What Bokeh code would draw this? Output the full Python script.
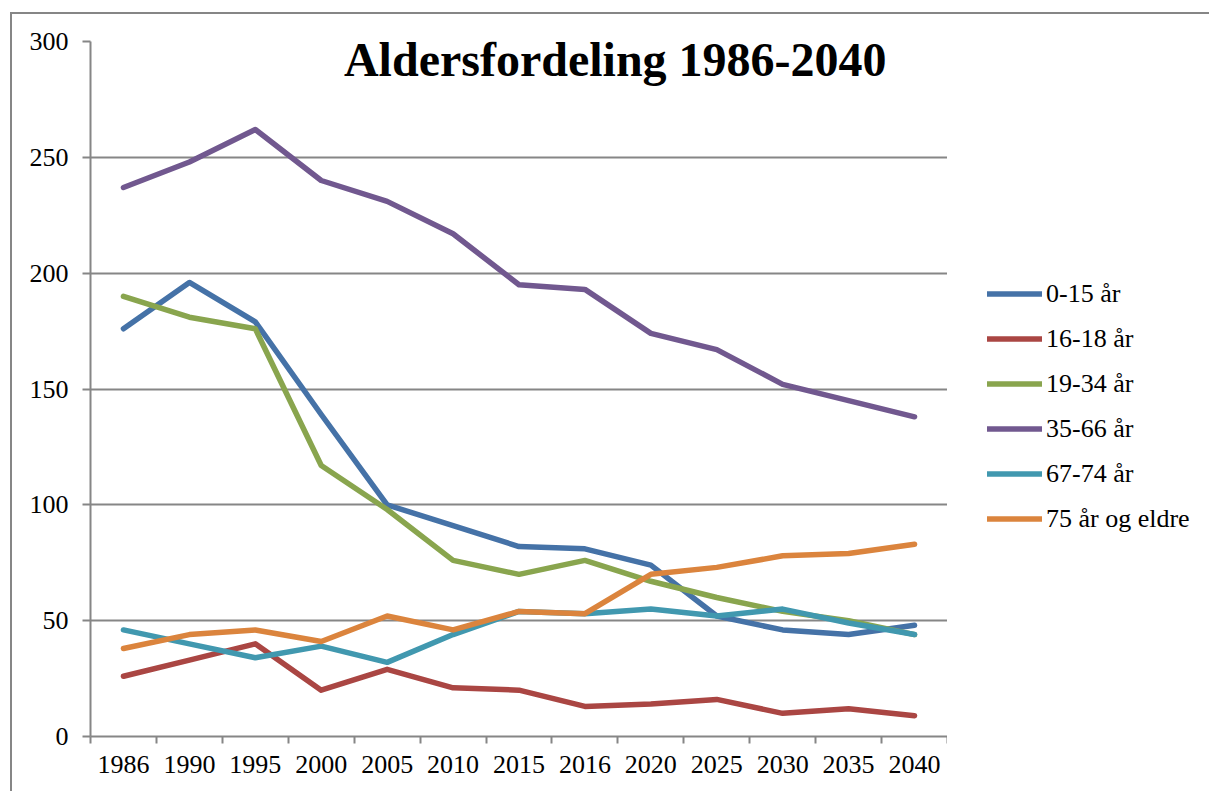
from bokeh.plotting import figure
from bokeh.layouts import row
from bokeh.models import (FixedTicker, CustomJSTickFormatter, Legend, LegendItem,
                          Label, Range1d)
from bokeh.embed import file_html
from bokeh.resources import INLINE

years = ["1986", "1990", "1995", "2000", "2005", "2010", "2015", "2016",
         "2020", "2025", "2030", "2035", "2040"]
series_names = ["0-15 år", "16-18 år", "19-34 år", "35-66 år", "67-74 år", "75 år og eldre"]
v_0_15 = [176, 196, 179, 139, 100, 91, 82, 81, 74, 52, 46, 44, 48]
v_16_18 = [26, 33, 40, 20, 29, 21, 20, 13, 14, 16, 10, 12, 9]
v_19_34 = [190, 181, 176, 117, 98, 76, 70, 76, 67, 60, 54, 50, 44]
v_35_66 = [237, 248, 262, 240, 231, 217, 195, 193, 174, 167, 152, 145, 138]
v_67_74 = [46, 40, 34, 39, 32, 44, 54, 53, 55, 52, 55, 49, 44]
v_75 = [38, 44, 46, 41, 52, 46, 54, 53, 70, 73, 78, 79, 83]
y_ticks = [0, 50, 100, 150, 200, 250, 300]
colors = ["#4572A7", "#AA4643", "#89A54E", "#71588F", "#4198AF", "#DB843D"]
all_series = [v_0_15, v_16_18, v_19_34, v_35_66, v_67_74, v_75]

FONT = "Liberation Serif"
GRAY = "#868686"

n = len(years)
xs = [i + 0.5 for i in range(n)]

p = figure(width=935, height=777, output_backend="svg", toolbar_location=None,
           x_range=Range1d(0, n), y_range=Range1d(0, 300),
           min_border_left=78, min_border_right=0, min_border_top=27,
           min_border_bottom=55)
p.outline_line_color = None
p.background_fill_color = "white"
p.border_fill_color = "white"

# x axis: labels at category centres, tick marks at boundaries
xa = p.xaxis[0]
xa.ticker = FixedTicker(ticks=xs, minor_ticks=list(range(n + 1)))
xa.formatter = CustomJSTickFormatter(args=dict(labels=years),
                                     code="return labels[Math.floor(tick)];")
xa.major_tick_out = 0
xa.major_tick_in = 0
xa.minor_tick_out = 7
xa.minor_tick_in = 0
xa.minor_tick_line_color = GRAY
xa.minor_tick_line_width = 2
xa.axis_line_color = GRAY
xa.axis_line_width = 2
xa.major_label_text_font = FONT
xa.major_label_text_font_size = "26px"
xa.major_label_text_color = "black"
xa.major_label_standoff = 12

ya = p.yaxis[0]
ya.ticker = FixedTicker(ticks=y_ticks)
ya.major_tick_out = 8
ya.major_tick_in = 0
ya.minor_tick_out = 0
ya.minor_tick_in = 0
ya.major_tick_line_color = GRAY
ya.major_tick_line_width = 2
ya.axis_line_color = GRAY
ya.axis_line_width = 2
ya.major_label_text_font = FONT
ya.major_label_text_font_size = "26px"
ya.major_label_text_color = "black"
ya.major_label_standoff = 14

p.xgrid.grid_line_color = None
p.ygrid.ticker = FixedTicker(ticks=y_ticks)
p.ygrid.grid_line_color = GRAY
p.ygrid.grid_line_width = 2

for vals, c in zip(all_series, colors):
    p.line(xs, vals, line_color=c, line_width=5.5, line_cap="round", line_join="round")

title = Label(x=7.96, y=292.3, text="Aldersfordeling 1986-2040",
              text_font=FONT, text_font_size="48px", text_font_style="bold",
              text_align="center", text_baseline="alphabetic", text_color="black")
p.add_layout(title)

# legend panel to the right of the plot area (series lie outside its range,
# so only the legend glyphs are visible here)
pl = figure(width=262, height=777, output_backend="svg", toolbar_location=None,
            x_range=Range1d(-2, -1), y_range=Range1d(-2, -1),
            x_axis_type=None, y_axis_type=None,
            min_border_left=0, min_border_right=0, min_border_top=0, min_border_bottom=0)
pl.outline_line_color = None
pl.xgrid.grid_line_color = None
pl.ygrid.grid_line_color = None
pl.background_fill_color = "white"
pl.border_fill_color = "white"

items = []
for name, vals, c in zip(series_names, all_series, colors):
    r = pl.line(xs, vals, line_color=c, line_width=5.5, line_cap="round")
    items.append(LegendItem(label=name, renderers=[r]))

legend = Legend(items=items, location=(40, 195), orientation="vertical",
                glyph_width=55, glyph_height=45, label_height=45, spacing=0,
                padding=0, margin=0, label_standoff=4,
                label_text_font=FONT, label_text_font_size="26px",
                label_text_color="black", label_text_baseline="middle",
                border_line_color=None, background_fill_alpha=0)
pl.add_layout(legend)

layout = row(p, pl, spacing=0)
layout.margin = (12, 0, 0, 10)
layout.styles = {"border-left": "2px solid #868686", "border-top": "2px solid #868686"}

open("out.html", "w").write(file_html(layout, INLINE))
